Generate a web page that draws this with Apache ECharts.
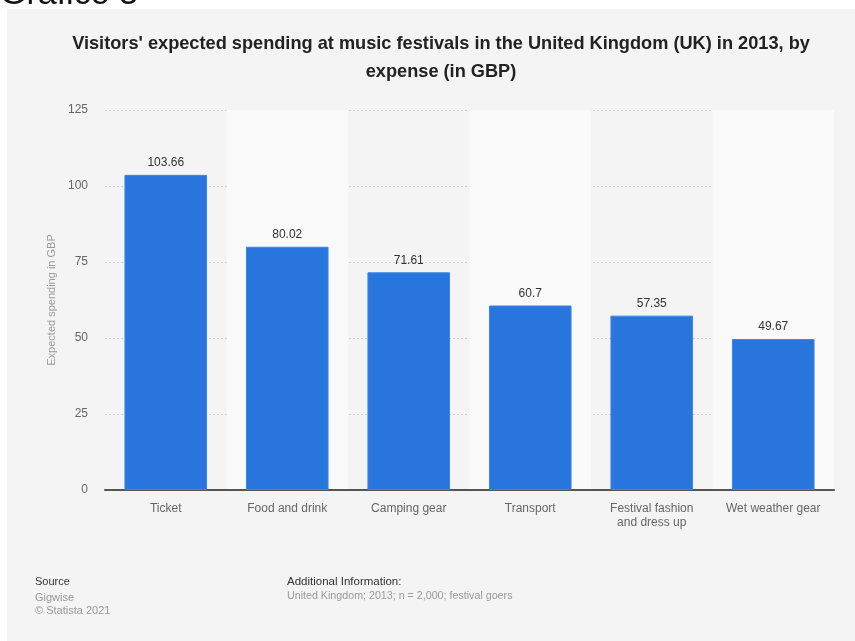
<!DOCTYPE html>
<html>
<head>
<meta charset="utf-8">
<script src="https://cdn.jsdelivr.net/npm/echarts@6/dist/echarts.min.js"></script>
<style>
  html, body { margin: 0; padding: 0; background: #ffffff; }
  #chart { width: 855px; height: 641px; }
</style>
</head>
<body>
<div id="chart"></div>
<script>
// Expected spending per festival visitor, by expense (GBP)
const categories = ['Ticket', 'Food and drink', 'Camping gear', 'Transport', 'Festival fashion\nand dress up', 'Wet weather gear'];
const spending = [103.66, 80.02, 71.61, 60.7, 57.35, 49.67];
const yTicks = { min: 0, max: 125, interval: 25 };

const FONT = '"Liberation Sans", Arial, sans-serif';

const chart = echarts.init(document.getElementById('chart'), null, { renderer: 'canvas' });

chart.setOption({
  animation: false,
  backgroundColor: '#ffffff',
  textStyle: { fontFamily: FONT },
  graphic: [
    {
      type: 'rect', z: -10, silent: true,
      shape: { x: 7, y: 9, width: 848, height: 632 },
      style: { fill: '#f4f4f4' }
    },
    {
      type: 'text', x: 0, y: 12, z: -5,
      style: { text: 'Gráfico 3', fill: '#111', font: '34px ' + FONT, verticalAlign: 'bottom' }
    },
    {
      type: 'text', x: 441, y: 30,
      style: {
        text: "Visitors' expected spending at music festivals in the United Kingdom (UK) in 2013, by\nexpense (in GBP)",
        fill: '#222', font: 'bold 18.2px ' + FONT, align: 'center', verticalAlign: 'top', lineHeight: 28
      }
    },
    {
      type: 'text', left: 35, top: 576,
      style: { text: 'Source', fill: '#333', font: '11px ' + FONT }
    },
    {
      type: 'text', left: 35, top: 591,
      style: { text: 'Gigwise\n© Statista 2021', fill: '#999', font: '11px ' + FONT, lineHeight: 13 }
    },
    {
      type: 'text', left: 287, top: 576,
      style: { text: 'Additional Information:', fill: '#333', font: '11.5px ' + FONT }
    },
    {
      type: 'text', left: 287, top: 591,
      style: { text: 'United Kingdom; 2013; n = 2,000; festival goers', fill: '#999', font: '10.7px ' + FONT }
    }
  ],
  grid: { left: 105, right: 21, top: 110, bottom: 151 },
  xAxis: {
    type: 'category',
    data: categories,
    axisLine: { lineStyle: { color: '#555', width: 2 } },
    axisTick: { show: false },
    axisLabel: { color: '#666', fontSize: 12, margin: 12, lineHeight: 14, interval: 0 },
    splitArea: { show: true, areaStyle: { color: ['rgba(0,0,0,0)', '#fafafa'] } }
  },
  yAxis: {
    type: 'value',
    min: yTicks.min, max: yTicks.max, interval: yTicks.interval,
    name: 'Expected spending in GBP',
    nameLocation: 'middle',
    nameRotate: 90,
    nameGap: 47,
    nameTextStyle: { color: '#999', fontSize: 11 },
    axisLine: { show: false },
    axisTick: { show: false },
    axisLabel: { color: '#666', fontSize: 12, margin: 17 },
    splitLine: { lineStyle: { color: '#cfcfcf', type: [2, 2], width: 1 } }
  },
  series: [{
    type: 'bar',
    data: spending,
    barWidth: '68%',
    itemStyle: { color: '#2876dd', borderColor: '#3d86e4', borderWidth: 1 },
    label: { show: true, position: 'top', distance: 6, color: '#333', fontSize: 12 }
  }]
});
</script>
</body>
</html>
